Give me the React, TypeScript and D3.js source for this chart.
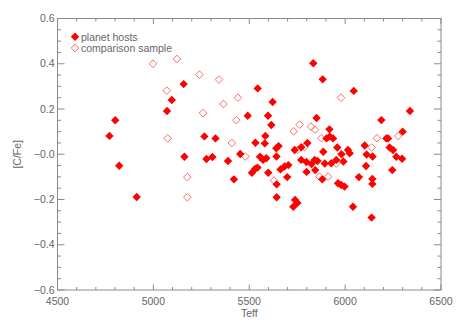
import React from "react";
import * as d3 from "d3";

const hostTeff = [4771, 4801, 4822, 4913, 5071, 5096, 5158, 5162, 5266, 5324, 5277, 5308, 5389, 5420, 5453, 5492, 5532, 5514, 5530, 5543, 5544, 5556, 5572, 5589, 5584, 5581, 5598, 5599, 5615, 5622, 5641, 5653, 5642, 5643, 5643, 5663, 5684, 5704, 5698, 5737, 5739, 5751, 5730, 5771, 5771, 5798, 5799, 5803, 5825, 5834, 5841, 5844, 5851, 5856, 5883, 5881, 5894, 5886, 5903, 5920, 5918, 5937, 5928, 5954, 5959, 5981, 5991, 5963, 5980, 5997, 6015, 6024, 6045, 6041, 6072, 6102, 6112, 6109, 6143, 6142, 6142, 6138, 6189, 6215, 6224, 6232, 6250, 6246, 6267, 6297, 6300, 6338];
const hostCFe = [0.081, 0.15, -0.051, -0.189, 0.191, 0.24, 0.31, -0.011, 0.079, 0.07, -0.021, -0.012, -0.03, -0.111, 0.001, 0.17, 0.051, -0.082, -0.065, -0.059, 0.291, -0.011, -0.025, -0.018, 0.081, 0.048, 0.17, -0.082, 0.129, 0.231, 0.026, 0.036, -0.01, -0.133, -0.19, -0.067, -0.054, -0.048, -0.101, 0.019, -0.202, -0.215, -0.232, -0.025, 0.031, -0.034, -0.078, 0.05, -0.043, 0.402, -0.025, -0.07, 0.16, -0.03, 0.331, -0.111, -0.041, 0.011, 0.07, 0.078, 0.11, 0.07, -0.04, -0.025, 0.03, 0.0, -0.032, -0.128, -0.136, -0.143, 0.019, 0.004, 0.28, -0.232, -0.101, 0.039, -0.001, -0.052, -0.01, -0.109, -0.131, -0.28, 0.151, 0.07, 0.07, 0.03, 0.019, -0.07, -0.011, -0.02, 0.1, 0.191];

const compTeff = [4998, 5123, 5070, 5074, 5177, 5177, 5240, 5342, 5441, 5365, 5259, 5433, 5409, 5480, 5732, 5763, 5822, 5843, 5979, 5876, 5752, 5789, 5629, 5866, 5911, 5954, 6166, 6138, 6277];
const compCFe = [0.4, 0.421, 0.281, 0.07, -0.101, -0.19, 0.352, 0.33, 0.25, 0.222, 0.182, 0.151, 0.05, -0.01, 0.101, 0.131, 0.122, 0.109, 0.25, 0.071, 0.019, 0.033, -0.116, -0.099, -0.099, -0.041, 0.071, 0.03, 0.081];

const xTicks = [4500, 5000, 5500, 6000, 6500];
const yTicks = [-0.6, -0.4, -0.2, 0.0, 0.2, 0.4, 0.6];
const yTickLabels = ["\u22120.6", "\u22120.4", "\u22120.2", "\u22120.0", "0.2", "0.4", "0.6"];
const legendLabels = ["planet hosts", "comparison sample"];

const W = 458, H = 327;
const L = 57.5, R = 441, T = 18.5, B = 290;
const axisColor = "#8a8a8a";
const textColor = "#666";
const font = "Liberation Sans, Arial, sans-serif";

function diamond(cx: number, cy: number, r: number) {
  return `M${cx},${cy - r}L${cx + r},${cy}L${cx},${cy + r}L${cx - r},${cy}Z`;
}

export default function App() {
  const x = d3.scaleLinear().domain([4500, 6500]).range([L, R]);
  const y = d3.scaleLinear().domain([-0.6, 0.6]).range([B, T]);
  const xMinor = d3.range(4500, 6501, 100);
  const yMinor = d3.range(-12, 13).map((i) => i * 0.05);

  return (
    <div style={{ position: "fixed", left: 0, top: 0 }}>
      <svg width={W} height={H} style={{ display: "block", background: "#fff" }}>
        <rect x={0} y={0} width={W} height={H} fill="#fff" />
        <rect x={L} y={T} width={R - L} height={B - T} fill="none" stroke={axisColor} strokeWidth={1} />
        {xMinor.map((v) => {
          const major = v % 500 === 0;
          const len = major ? 5.5 : 3;
          return (
            <g key={"xt" + v}>
              <line x1={x(v)} x2={x(v)} y1={B} y2={B - len} stroke={axisColor} />
              <line x1={x(v)} x2={x(v)} y1={T} y2={T + len} stroke={axisColor} />
            </g>
          );
        })}
        {yMinor.map((v, i) => {
          const major = i % 4 === 0;
          const len = major ? 7 : 3.5;
          return (
            <g key={"yt" + i}>
              <line x1={L} x2={L + len} y1={y(v)} y2={y(v)} stroke={axisColor} />
              <line x1={R} x2={R - len} y1={y(v)} y2={y(v)} stroke={axisColor} />
            </g>
          );
        })}
        {xTicks.map((v) => (
          <text key={"xl" + v} x={x(v)} y={305} textAnchor="middle" fontFamily={font} fontSize={10.5} fill={textColor}>
            {v}
          </text>
        ))}
        {yTicks.map((v, i) => (
          <text key={"yl" + i} x={L - 3} y={y(v) + 3.5} textAnchor="end" fontFamily={font} fontSize={10.5} fill={textColor}>
            {yTickLabels[i]}
          </text>
        ))}
        <text x={x(5500)} y={316.5} textAnchor="middle" fontFamily={font} fontSize={10.5} fill={textColor}>Teff</text>
        <text transform={`translate(21,${(T + B) / 2}) rotate(-90)`} textAnchor="middle" fontFamily={font} fontSize={10.5} fill={textColor}>[C/Fe]</text>
        {compTeff.map((t, i) => (
          <path key={"c" + i} d={diamond(x(t), y(compCFe[i]), 3.8)} fill="none" stroke="#ff5a5a" strokeWidth={0.9} />
        ))}
        {hostTeff.map((t, i) => (
          <path key={"h" + i} d={diamond(x(t), y(hostCFe[i]), 4.2)} fill="#ff0000" stroke="none" />
        ))}
        <path d={diamond(75, 36.7, 4.2)} fill="#ff0000" />
        <text x={81} y={40.5} fontFamily={font} fontSize={10.5} fill={textColor}>{legendLabels[0]}</text>
        <path d={diamond(75, 48, 3.8)} fill="none" stroke="#ff5a5a" strokeWidth={0.9} />
        <text x={81} y={51.7} fontFamily={font} fontSize={10.5} fill={textColor}>{legendLabels[1]}</text>
      </svg>
    </div>
  );
}
